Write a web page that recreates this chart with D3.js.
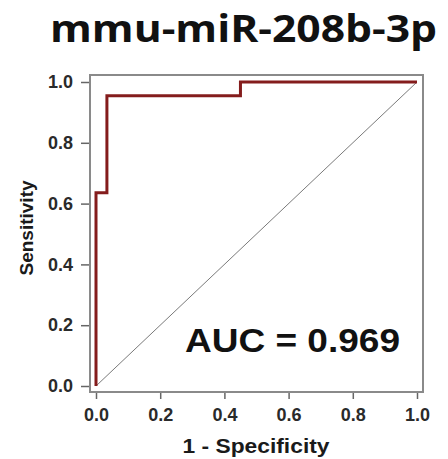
<!DOCTYPE html>
<html>
<head>
<meta charset="utf-8">
<script src="https://cdn.jsdelivr.net/npm/d3@7"></script>
<style>
  body { margin: 0; background: #fff; }
  svg text { font-family: "Liberation Sans", Arial, sans-serif; font-weight: bold; }
</style>
</head>
<body>
<div id="chart"></div>
<script>
var width = 448, height = 459;

// DATA
const title = 'mmu-miR-208b-3p'
const fpr = [0, 0, 0.034, 0.034, 0.45, 0.45, 1]
const tpr = [0, 0.636, 0.636, 0.955, 0.955, 1, 1]
const xTicks = [0, 0.2, 0.4, 0.6, 0.8, 1]
const yTicks = [0, 0.2, 0.4, 0.6, 0.8, 1]
const aucLabel = 'AUC = 0.969'
const xTitle = '1 - Specificity'
const yTitle = 'Sensitivity'

// COLORS
const frameGray = '#8a8a8a'
const rocRed = '#841c1c'
const ink = '#1a1a1a'

// SCALES
var x = d3.scaleLinear().domain([0, 1]).range([96, 417])
var y = d3.scaleLinear().domain([0, 1]).range([386, 82])

var svg = d3.select('#chart').append('svg')
    .attr('width', width)
    .attr('height', height)

// title
svg.append('text')
    .attr('x', 50)
    .attr('y', 42)
    .attr('textLength', 387)
    .attr('lengthAdjust', 'spacingAndGlyphs')
    .style('font-family', '"Open Sans", "Noto Sans", sans-serif')
    .style('font-size', '38px')
    .attr('fill', '#111')
    .text(title)

// frame
svg.append('rect')
    .attr('x', 90)
    .attr('y', 75)
    .attr('width', 333)
    .attr('height', 317)
    .attr('fill', 'none')
    .attr('stroke', frameGray)
    .attr('stroke-width', 2)

// axes
var yAxis = svg.append('g')
    .attr('transform', 'translate(89,0)')
    .call(d3.axisLeft(y).tickValues(yTicks).tickFormat(d3.format('.1f')).tickSize(8).tickPadding(8))
yAxis.select('.domain').remove()

var xAxis = svg.append('g')
    .attr('transform', 'translate(0,393)')
    .call(d3.axisBottom(x).tickValues(xTicks).tickFormat(d3.format('.1f')).tickSize(6).tickPadding(9))
xAxis.select('.domain').remove()

svg.selectAll('.tick line').attr('stroke', '#666').attr('stroke-width', 1.5)
svg.selectAll('.tick text')
    .style('font-size', '18px')
    .style('font-family', '"Liberation Sans", Arial, sans-serif')
    .attr('fill', '#2a2a2a')

// axis titles
svg.append('text')
    .attr('x', 256)
    .attr('y', 453)
    .attr('text-anchor', 'middle')
    .attr('textLength', 147)
    .attr('lengthAdjust', 'spacingAndGlyphs')
    .style('font-size', '20px')
    .attr('fill', ink)
    .text(xTitle)

svg.append('text')
    .attr('transform', 'translate(33,228) rotate(-90)')
    .attr('text-anchor', 'middle')
    .style('font-size', '19px')
    .attr('fill', ink)
    .text(yTitle)

// chance diagonal
svg.append('line')
    .attr('x1', x(0)).attr('y1', y(0))
    .attr('x2', x(1)).attr('y2', y(1))
    .attr('stroke', '#7a7a7a')
    .attr('stroke-width', 1)

// ROC curve
var pts = fpr.map(function(d, i) { return [d, tpr[i]] })
var line = d3.line()
    .x(function(d) { return x(d[0]) })
    .y(function(d) { return y(d[1]) })

svg.append('path')
    .datum(pts)
    .attr('d', line)
    .attr('fill', 'none')
    .attr('stroke', rocRed)
    .attr('stroke-width', 3)

// AUC label
svg.append('text')
    .attr('x', 185)
    .attr('y', 352)
    .attr('textLength', 215)
    .attr('lengthAdjust', 'spacingAndGlyphs')
    .style('font-size', '34px')
    .attr('fill', '#111')
    .text(aucLabel)
</script>
</body>
</html>
